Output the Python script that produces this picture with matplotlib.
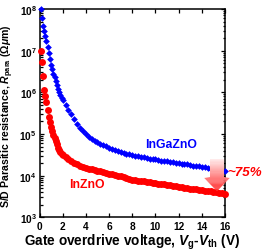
import numpy as np
import matplotlib
matplotlib.use("Agg")
import matplotlib.pyplot as plt
from matplotlib.ticker import FixedLocator, FixedFormatter, LogLocator, NullFormatter
from matplotlib.patches import Polygon

# ---------------- data ----------------
vg_vth = [0.1, 0.2, 0.3, 0.4, 0.5, 0.6, 0.7, 0.8, 0.9, 1.0,
          1.1, 1.2, 1.3, 1.4, 1.5, 1.6, 1.7, 1.8, 1.9, 2.0,
          2.25, 2.5, 2.75, 3.0, 3.25, 3.5, 3.75, 4.0, 4.25, 4.5,
          4.75, 5.0, 5.25, 5.5, 5.75, 6.0, 6.25, 6.5, 6.75, 7.0,
          7.25, 7.5, 7.75, 8.0, 8.25, 8.5, 8.75, 9.0, 9.25, 9.5,
          9.75, 10.0, 10.25, 10.5, 10.75, 11.0, 11.25, 11.5, 11.75, 12.0,
          12.25, 12.5, 12.75, 13.0, 13.25, 13.5, 13.75, 14.0, 14.25, 14.5,
          14.75, 15.0, 15.25, 15.5, 15.75, 16.0]

# log10 of R_para (Ohm um)
ingazno_log10_R = [8.00, 7.78, 7.60, 7.46, 7.34, 7.22, 7.08, 6.94, 6.80, 6.66,
                   6.55, 6.45, 6.36, 6.27, 6.18, 6.09, 6.01, 5.94, 5.87, 5.82,
                   5.70, 5.58, 5.47, 5.36, 5.25, 5.15, 5.06, 4.99, 4.93, 4.88,
                   4.84, 4.80, 4.77, 4.73, 4.70, 4.67, 4.64, 4.62, 4.60, 4.57,
                   4.55, 4.53, 4.51, 4.50, 4.48, 4.47, 4.45, 4.44, 4.42, 4.41,
                   4.40, 4.39, 4.38, 4.36, 4.35, 4.34, 4.33, 4.32, 4.31, 4.30,
                   4.29, 4.28, 4.27, 4.25, 4.24, 4.23, 4.22, 4.21, 4.20, 4.19,
                   4.17, 4.16, 4.15, 4.13, 4.12, 4.11]

inzno_log10_R = [7.00, 6.72, 6.40, 6.05, 5.90, 5.77, 5.58, 5.40, 5.28, 5.16,
                 5.06, 4.98, 4.90, 4.83, 4.76, 4.66, 4.62, 4.57, 4.53, 4.50,
                 4.44, 4.39, 4.34, 4.30, 4.27, 4.24, 4.21, 4.19, 4.17, 4.15,
                 4.14, 4.12, 4.11, 4.09, 4.07, 4.05, 4.04, 4.02, 4.00, 3.98,
                 3.96, 3.94, 3.92, 3.90, 3.89, 3.88, 3.87, 3.86, 3.85, 3.84,
                 3.83, 3.82, 3.81, 3.80, 3.79, 3.78, 3.77, 3.76, 3.75, 3.73,
                 3.72, 3.71, 3.70, 3.69, 3.68, 3.67, 3.66, 3.65, 3.64, 3.63,
                 3.62, 3.61, 3.60, 3.59, 3.58, 3.57]

x_ticks = [0, 2, 4, 6, 8, 10, 12, 14, 16]
x_tick_labels = ["0", "2", "4", "6", "8", "10", "12", "14", "16"]
y_ticks = [1e3, 1e4, 1e5, 1e6, 1e7, 1e8]
y_tick_labels = [r"$\mathbf{10^{3}}$", r"$\mathbf{10^{4}}$", r"$\mathbf{10^{5}}$",
                 r"$\mathbf{10^{6}}$", r"$\mathbf{10^{7}}$", r"$\mathbf{10^{8}}$"]

# ---------------- style ----------------
plt.rcParams['font.family'] = ['Liberation Sans', 'DejaVu Sans']
plt.rcParams['font.weight'] = 'bold'
plt.rcParams['mathtext.fontset'] = 'custom'
plt.rcParams['mathtext.rm'] = 'Liberation Sans:bold'
plt.rcParams['mathtext.bf'] = 'Liberation Sans:bold'
plt.rcParams['mathtext.it'] = 'Liberation Sans:italic:bold'

W, H = 263, 251
fig = plt.figure(figsize=(W / 100, H / 100), dpi=100)
L, R, T, B = 39.5, 225.0, 10.0, 218.3
ax = fig.add_axes([L / W, 1 - B / H, (R - L) / W, (B - T) / H])

x = np.array(vg_vth)
y_igzo = 10 ** np.array(ingazno_log10_R)
y_izo = 10 ** np.array(inzno_log10_R)

ax.plot(x, y_izo, linestyle='none', marker='o', markersize=5.0,
        color='#ff0000', markeredgewidth=0, zorder=3, clip_on=False)
ax.plot(x, y_igzo, linestyle='none', marker='D', markersize=3.4,
        color='#0000ff', markeredgewidth=0, zorder=4, clip_on=False)

ax.set_yscale('log')
ax.set_xlim(0, 16)
ax.set_ylim(1e3, 1e8)

ax.xaxis.set_major_locator(FixedLocator(x_ticks))
ax.xaxis.set_major_formatter(FixedFormatter(x_tick_labels))
ax.yaxis.set_major_locator(FixedLocator(y_ticks))
ax.yaxis.set_major_formatter(FixedFormatter(y_tick_labels))
ax.yaxis.set_minor_locator(LogLocator(base=10, subs=np.arange(2, 10)))
ax.yaxis.set_minor_formatter(NullFormatter())

ax.tick_params(which='both', direction='in', top=True, right=True,
               labelsize=7.3, width=0.9)
ax.tick_params(which='major', length=3.2)
ax.tick_params(which='minor', length=1.8)
ax.tick_params(axis='x', pad=2.5)
ax.tick_params(axis='y', pad=2.0)
for lab in ax.get_xticklabels():
    lab.set_fontweight('bold')
for s in ax.spines.values():
    s.set_linewidth(1.1)

ax.set_xlabel(r"Gate overdrive voltage, $V_{\mathrm{g}}$-$V_{\mathrm{th}}$ (V)",
              fontsize=9.8, fontweight='bold', labelpad=1.0)
ax.set_ylabel(r"S/D Parasitic resistance, $R_{\mathrm{para}}$ ($\Omega\mu$m)",
              fontsize=7.6, fontweight='bold', labelpad=1.0)
ax.yaxis.set_label_coords(-0.125, 0.49)

def ax_xy(px, py):
    return ((px - L) / (R - L), (B - py) / (B - T))

ax.text(*ax_xy(171, 144.5), "InGaZnO", transform=ax.transAxes, color='#0000ff',
        fontsize=8.8, fontweight='bold', ha='center', va='center')
ax.text(*ax_xy(86.7, 184.5), "InZnO", transform=ax.transAxes, color='#ff0000',
        fontsize=8.8, fontweight='bold', ha='center', va='center')
ax.text(*ax_xy(245.0, 172.5), "~75%", transform=ax.transAxes, color='#ff0000',
        fontsize=9.6, fontweight='bold', style='italic', ha='center', va='center',
        clip_on=False, zorder=6)

# gradient arrow built from thin horizontal strips (pixel geometry)
cx, top_y, neck_y, tip_y = 217.0, 160.0, 178.0, 192.0
shaft_hw, head_hw = 7.0, 13.5
n_strips = 32

def half_width(py):
    if py <= neck_y:
        return shaft_hw
    return head_hw * (tip_y - py) / (tip_y - neck_y)

def strip_color(t):
    g = 0.93 - 0.75 * t
    return (1.0, g, g)

shaft_edges = np.linspace(top_y, neck_y, n_strips // 2 + 1)
for ya, yb in zip(shaft_edges[:-1], shaft_edges[1:]):
    t = (0.5 * (ya + yb) - top_y) / (tip_y - top_y)
    pts = [ax_xy(cx - shaft_hw, ya), ax_xy(cx + shaft_hw, ya),
           ax_xy(cx + shaft_hw, yb + 0.3), ax_xy(cx - shaft_hw, yb + 0.3)]
    ax.add_patch(Polygon(pts, closed=True, transform=ax.transAxes,
                         facecolor=strip_color(t), edgecolor='none',
                         clip_on=False, zorder=5))
head_edges = np.linspace(neck_y, tip_y, n_strips // 2 + 1)
for ya, yb in zip(head_edges[:-1], head_edges[1:]):
    t = (0.5 * (ya + yb) - top_y) / (tip_y - top_y)
    pts = [ax_xy(cx - half_width(ya), ya), ax_xy(cx + half_width(ya), ya),
           ax_xy(cx + half_width(yb), yb + 0.3), ax_xy(cx - half_width(yb), yb + 0.3)]
    ax.add_patch(Polygon(pts, closed=True, transform=ax.transAxes,
                         facecolor=strip_color(t), edgecolor='none',
                         clip_on=False, zorder=5))

fig.savefig("out.png", dpi=100)
